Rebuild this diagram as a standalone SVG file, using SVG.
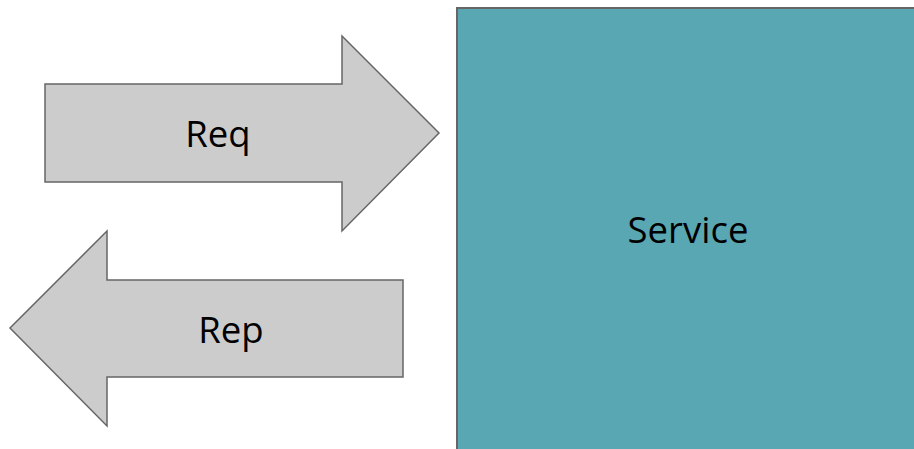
<svg xmlns="http://www.w3.org/2000/svg" width="914" height="449" viewBox="0 0 914 449">
<style>
.arrow{fill:#cccccc;stroke:#666666;stroke-width:1.5;stroke-linejoin:miter}
.box{fill:#5aa7b4;stroke:#666666;stroke-width:2}
.lbl{font-family:"Open Sans","Noto Sans",sans-serif;font-size:36.5px;fill:#000000;text-anchor:middle}
</style>
<rect width="914" height="449" fill="#ffffff"/>
<g id="service">
<rect class="box" x="457" y="8" width="470" height="460"/>
<text class="lbl" x="688" y="243">Service</text>
</g>
<g id="connectors">
<g id="req">
<polygon class="arrow" points="45,84 342,84 342,36 439,133 342,231 342,182 45,182"/>
<text class="lbl" x="218" y="147">Req</text>
</g>
<g id="rep">
<polygon class="arrow" points="403,280 107,280 107,231 10,328 107,426 107,377 403,377"/>
<text class="lbl" x="231" y="343">Rep</text>
</g>
</g>
</svg>
